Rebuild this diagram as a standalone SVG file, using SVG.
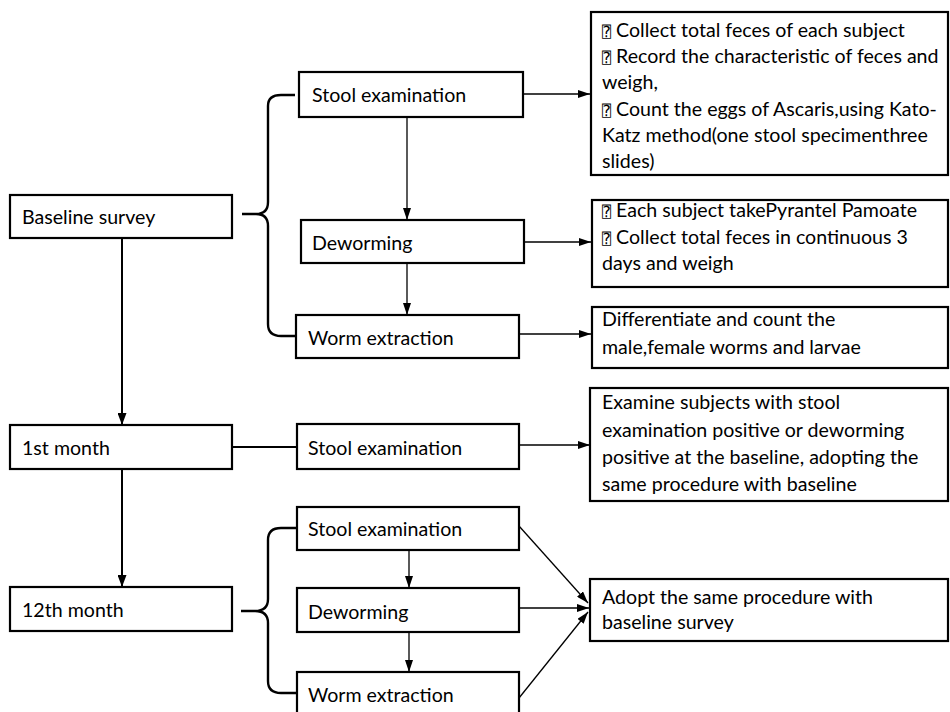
<svg xmlns="http://www.w3.org/2000/svg" width="950" height="712" viewBox="0 0 950 712">
<defs>
<marker id="ah" viewBox="0 0 12 8" refX="12" refY="4" markerWidth="12" markerHeight="8" markerUnits="userSpaceOnUse" orient="auto">
<path d="M0,0 L12,4 L0,8 Z" fill="#000"/>
</marker>
<marker id="ahb" viewBox="0 0 12 9" refX="12" refY="4.5" markerWidth="12" markerHeight="9" markerUnits="userSpaceOnUse" orient="auto">
<path d="M0,0 L12,4.5 L0,9 Z" fill="#000"/>
</marker>
</defs>
<style>
rect{fill:#fff;stroke:#000;stroke-width:2.2}
text{font-family:Lato,"Open Sans","Liberation Sans",sans-serif;font-size:19.6px;fill:#000}
.q{font-family:"DejaVu Sans Mono","DejaVu Sans",monospace;font-size:15px}
.c{fill:none;stroke:#000;stroke-width:1.3}
.cb{fill:none;stroke:#000;stroke-width:2}
.br{fill:none;stroke:#000;stroke-width:2.4}
</style>
<rect width="950" height="712" style="fill:#fff;stroke:none"/>
<g id="connectors">
<path class="br" d="M242,214 L256,214 Q268,214 268,202 L268,106 Q268,95 281,95 L295,95 M256,214 Q268,214 268,226 L268,324 Q268,336 281,336 L296,336"/>
<path class="br" d="M241,611 L255,611 Q268,611 268,599 L268,540 Q268,528 281,528 L296,528 M255,611 Q268,611 268,623 L268,681 Q268,693 281,693 L296,693"/>
<line class="cb" x1="122" y1="237" x2="122" y2="425" marker-end="url(#ahb)"/>
<line class="cb" x1="122" y1="469" x2="122" y2="587" marker-end="url(#ahb)"/>
<line class="cb" x1="232" y1="447" x2="297" y2="447"/>
<line class="c" x1="407" y1="117" x2="407" y2="220" marker-end="url(#ah)"/>
<line class="c" x1="407" y1="263" x2="407" y2="315" marker-end="url(#ah)"/>
<line class="c" x1="523" y1="94" x2="590" y2="94" marker-end="url(#ah)"/>
<line class="c" x1="524" y1="242" x2="591" y2="242" marker-end="url(#ah)"/>
<line class="c" x1="519" y1="334" x2="591" y2="334" marker-end="url(#ah)"/>
<line class="c" x1="519" y1="445" x2="590" y2="445" marker-end="url(#ah)"/>
<line class="c" x1="409" y1="550" x2="409" y2="588" marker-end="url(#ah)"/>
<line class="c" x1="409" y1="632" x2="409" y2="672" marker-end="url(#ah)"/>
<line class="c" x1="519" y1="526" x2="588" y2="603" marker-end="url(#ah)"/>
<line class="c" x1="519" y1="608" x2="589" y2="608" marker-end="url(#ah)"/>
<line class="c" x1="519" y1="698" x2="588" y2="612" marker-end="url(#ah)"/>
</g>
<g id="baseline">
<rect x="10" y="195" width="222" height="43"/>
<text x="22" y="224">Baseline survey</text>
</g>
<g id="stool1">
<rect x="299" y="72" width="224" height="45"/>
<text x="312" y="102">Stool examination</text>
</g>
<g id="deworm1">
<rect x="301" y="220" width="223" height="43"/>
<text x="312" y="250">Deworming</text>
</g>
<g id="worm1">
<rect x="296" y="315" width="223" height="43"/>
<text x="308" y="345">Worm extraction</text>
</g>
<g id="note1">
<rect x="591" y="12" width="357" height="163"/>
<text x="602" y="37"><tspan class="q">⍰</tspan> Collect total feces of each subject</text>
<text x="602" y="63"><tspan class="q">⍰</tspan> Record the characteristic of feces and</text>
<text x="602" y="89">weigh,</text>
<text x="602" y="116"><tspan class="q">⍰</tspan> Count the eggs of Ascaris,using Kato-</text>
<text x="602" y="142">Katz method(one stool specimenthree</text>
<text x="602" y="168">slides)</text>
</g>
<g id="note2">
<rect x="592" y="200" width="356" height="87"/>
<text x="602" y="217"><tspan class="q">⍰</tspan> Each subject takePyrantel Pamoate</text>
<text x="602" y="244"><tspan class="q">⍰</tspan> Collect total feces in continuous 3</text>
<text x="602" y="270">days and weigh</text>
</g>
<g id="note3">
<rect x="592" y="307" width="356" height="61"/>
<text x="602" y="326">Differentiate and count the</text>
<text x="602" y="354">male,female worms and larvae</text>
</g>
<g id="month1">
<rect x="10" y="425" width="222" height="44"/>
<text x="22" y="455">1st month</text>
</g>
<g id="stool2">
<rect x="297" y="424" width="222" height="45"/>
<text x="308" y="455">Stool examination</text>
</g>
<g id="note4">
<rect x="590" y="388" width="358" height="113"/>
<text x="602" y="409">Examine subjects with stool</text>
<text x="602" y="437">examination positive or deworming</text>
<text x="602" y="464">positive at the baseline, adopting the</text>
<text x="602" y="491">same procedure with baseline</text>
</g>
<g id="month12">
<rect x="10" y="587" width="222" height="44"/>
<text x="22" y="617">12th month</text>
</g>
<g id="stool3">
<rect x="297" y="507" width="222" height="43"/>
<text x="308" y="536">Stool examination</text>
</g>
<g id="deworm3">
<rect x="297" y="588" width="222" height="44"/>
<text x="308" y="619">Deworming</text>
</g>
<g id="worm3">
<rect x="297" y="672" width="222" height="50"/>
<text x="308" y="702">Worm extraction</text>
</g>
<g id="note5">
<rect x="590" y="579" width="358" height="62"/>
<text x="602" y="604">Adopt the same procedure with</text>
<text x="602" y="629">baseline survey</text>
</g>
</svg>
